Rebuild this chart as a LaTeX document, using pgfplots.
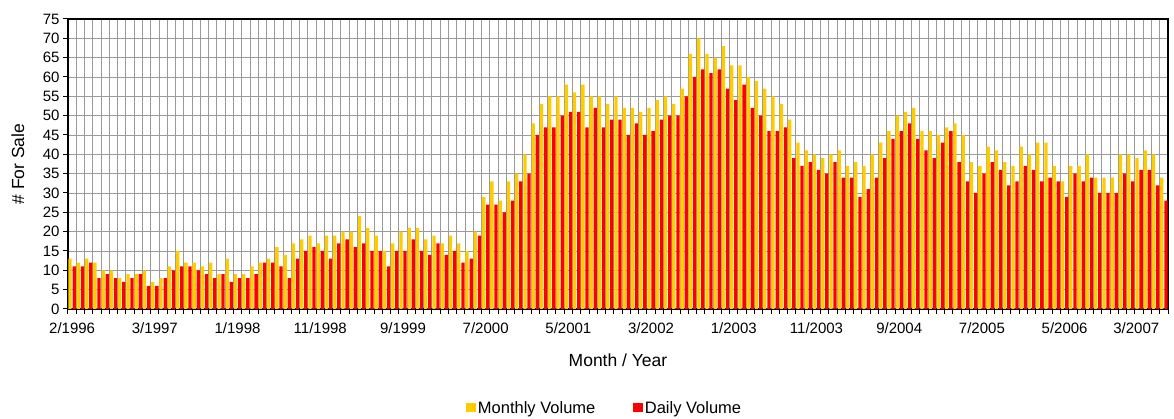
\documentclass[border=0pt]{standalone}
\usepackage{fontspec}
\setmainfont{Liberation Sans}
\usepackage{pgfplots}
\pgfplotsset{compat=1.18}
\usepackage{pgfplotstable}
\definecolor{myyel}{HTML}{FFCC00}
\definecolor{myred}{HTML}{FF0000}
\definecolor{gridc}{HTML}{9A9A9A}

\pgfplotstableread{
k y r
0 13 11
1 12 11
2 13 12
3 12 8
4 10 9
5 10 8
6 8 7
7 9 8
8 9 9
9 10 6
10 7 6
11 8 8
12 11 10
13 15 11
14 12 11
15 12 10
16 11 9
17 12 8
18 9 9
19 13 7
20 9 8
21 9 8
22 11 9
23 12 12
24 13 12
25 16 11
26 14 8
27 17 13
28 18 15
29 19 16
30 17 15
31 19 13
32 19 17
33 20 18
34 20 16
35 24 17
36 21 15
37 19 15
38 15 11
39 17 15
40 20 15
41 21 18
42 21 15
43 18 14
44 19 17
45 17 14
46 19 15
47 17 12
48 15 13
49 20 19
50 29 27
51 33 27
52 28 25
53 33 28
54 35 33
55 40 35
56 48 45
57 53 47
58 55 47
59 55 50
60 58 51
61 56 51
62 58 47
63 55 52
64 55 47
65 53 49
66 55 49
67 52 45
68 52 48
69 51 45
70 52 46
71 54 49
72 55 50
73 53 50
74 57 55
75 66 60
76 70 62
77 66 61
78 65 62
79 68 57
80 63 54
81 63 58
82 60 52
83 59 50
84 57 46
85 55 46
86 53 47
87 49 39
88 43 37
89 41 38
90 40 36
91 39 35
92 40 38
93 41 34
94 37 34
95 38 29
96 37 31
97 40 34
98 43 39
99 46 44
100 50 46
101 51 48
102 52 44
103 46 41
104 46 39
105 45 43
106 47 46
107 48 38
108 45 33
109 38 30
110 37 35
111 42 38
112 41 36
113 38 32
114 37 33
115 42 37
116 40 36
117 43 33
118 43 34
119 37 33
120 33 29
121 37 35
122 37 33
123 40 34
124 34 30
125 34 30
126 34 30
127 40 35
128 40 33
129 39 36
130 41 36
131 40 32
132 34 28
}\data

\begin{document}
\begin{tikzpicture}
\useasboundingbox (-68pt,-110pt) rectangle (1106pt,309pt);
\begin{axis}[
  scale only axis, width=1100pt, height=290pt,
  xmin=-0.5, xmax=132.5, ymin=0, ymax=75,
  ybar=0.8pt, bar width=3.3pt,
  axis line style={black, line width=1.2pt},
  ytick={0,5,...,75},
  xtick={0,10,...,130},
  xticklabels={2/1996,3/1997,1/1998,11/1998,9/1999,7/2000,5/2001,3/2002,1/2003,11/2003,9/2004,7/2005,5/2006,\hspace*{-22pt}3/2007},
  minor xtick={-0.5,0.5,...,132.5},
  xminorgrids=true, ymajorgrids=true, xmajorgrids=false,
  grid style={draw=gridc, line width=0.9pt},
  minor grid style={draw=gridc, line width=0.9pt},
  tick align=outside,
  xtick pos=bottom, ytick pos=left,
  major tick length=5pt, minor tick length=5pt,
  major x tick style={draw=none},
  tick style={black, line width=1pt},
  /pgf/number format/assume math mode=true,
  tick label style={font=\fontsize{15}{17}\selectfont},
  xticklabel style={yshift=-5pt},
  xlabel={Month / Year},
  ylabel={\# For Sale},
  label style={font=\fontsize{17.5}{19}\selectfont},
  xlabel style={at={(axis description cs:0.5,-0.176)}, anchor=center},
  ylabel style={at={(axis description cs:-0.0455,0.5)}, anchor=center},
  legend style={at={(axis description cs:0.488,-0.341)}, anchor=center, draw=none,
    font=\fontsize{16.5}{18}\selectfont, legend columns=2,
    /tikz/every even column/.append style={column sep=36pt}},
  legend image code/.code={\fill[#1] (0pt,-4.5pt) rectangle (9.5pt,5pt);},
]
\addplot[fill=myyel, draw=none] table[x=k, y=y] {\data};
\addlegendentry{Monthly Volume}
\addplot[fill=myred, draw=none] table[x=k, y=r] {\data};
\addlegendentry{Daily Volume}
\end{axis}
\end{tikzpicture}
\end{document}
